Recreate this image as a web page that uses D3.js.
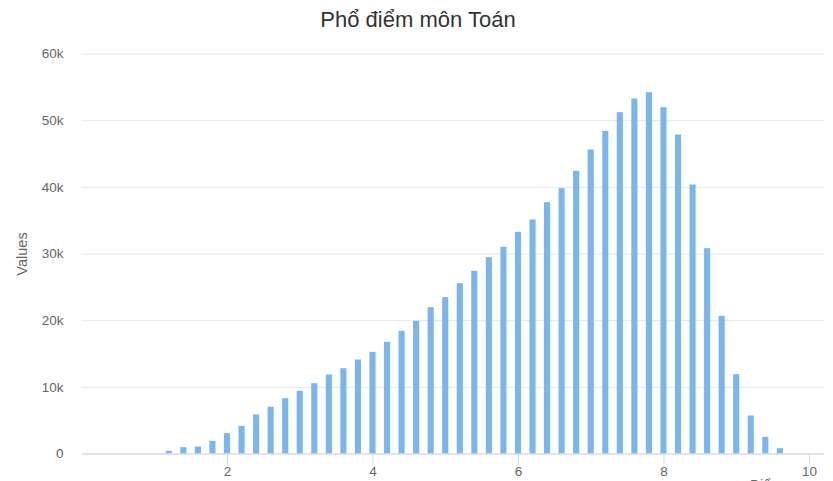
<!DOCTYPE html>
<html>
<head>
<meta charset="utf-8">
<script src="https://cdn.jsdelivr.net/npm/d3@7"></script>
<style>
  html, body { margin: 0; padding: 0; background: #fff; }
  svg { display: block; font-family: "Liberation Sans", Arial, sans-serif; }
</style>
</head>
<body>
<svg id="chart" width="833" height="481"></svg>
<script>
const title = "Phổ điểm môn Toán";
const yAxisTitle = "Values";
const xAxisTitle = "Điểm";
const scores = [1.2, 1.4, 1.6, 1.8, 2.0, 2.2, 2.4, 2.6, 2.8, 3.0, 3.2, 3.4, 3.6, 3.8, 4.0, 4.2, 4.4, 4.6, 4.8, 5.0,
                5.2, 5.4, 5.6, 5.8, 6.0, 6.2, 6.4, 6.6, 6.8, 7.0, 7.2, 7.4, 7.6, 7.8, 8.0, 8.2, 8.4, 8.6, 8.8, 9.0,
                9.2, 9.4, 9.6];
const counts = [400, 950, 1050, 1900, 3050, 4150, 5850, 7000, 8300, 9400, 10550, 11850, 12800, 14100, 15250, 16750, 18400, 19900, 21950, 23450,
                25550, 27400, 29450, 31000, 33250, 35100, 37700, 39800, 42400, 45600, 48400, 51200, 53250, 54200, 51950, 47850, 40350, 30800, 20650, 11900,
                5700, 2500, 800];
const xTicks = [2, 4, 6, 8, 10];
const yTicks = [0, 10000, 20000, 30000, 40000, 50000, 60000];
const yTickLabels = ["0", "10k", "20k", "30k", "40k", "50k", "60k"];

const svg = d3.select("#chart");
const plotLeft = 81.5, plotRight = 823.5, plotTop = 53.5, plotBottom = 453.5;

const x = d3.scaleLinear().domain([0, 10.2]).range([plotLeft, plotRight]);
const y = d3.scaleLinear().domain([0, 60000]).range([plotBottom, plotTop]);
const barW = (x(0.2) - x(0)) * 0.42;

// title
svg.append("text").attr("x", 418).attr("y", 27).attr("text-anchor", "middle")
  .attr("font-size", 22).attr("fill", "#333333").text(title);

// y grid + labels
const yAxis = d3.axisLeft(y).tickValues(yTicks).tickSize(-(plotRight - plotLeft))
  .tickFormat((d, i) => yTickLabels[i]);
const gy = svg.append("g").attr("transform", `translate(${plotLeft},0)`).call(yAxis);
gy.select(".domain").remove();
gy.selectAll(".tick line").attr("stroke", "#e6e6e6");
gy.selectAll(".tick text").attr("x", -18).attr("dy", "0.32em")
  .attr("font-size", 13.5).attr("fill", "#666666").attr("font-family", "Liberation Sans, Arial, sans-serif");

// bars
const data = scores.map((s, i) => ({ s, c: counts[i] }));
svg.append("g").selectAll("rect").data(data).join("rect")
  .attr("x", d => x(d.s) - barW / 2)
  .attr("y", d => y(d.c))
  .attr("width", barW)
  .attr("height", d => y(0) - y(d.c))
  .attr("fill", "#7cb5ec");

// x axis
const xAxis = d3.axisBottom(x).tickValues(xTicks).tickSize(10).tickSizeOuter(0).tickFormat(d3.format("d"));
const gx = svg.append("g").attr("transform", `translate(0,${plotBottom})`).call(xAxis);
gx.select(".domain").attr("stroke", "#ccd6eb");
gx.selectAll(".tick line").attr("stroke", "#ccd6eb");
gx.selectAll(".tick text").attr("y", 13).attr("dy", "0.71em")
  .attr("font-size", 13.5).attr("fill", "#666666").attr("font-family", "Liberation Sans, Arial, sans-serif");

// axis titles
svg.append("text").attr("transform", `translate(27,254) rotate(-90)`).attr("text-anchor", "middle")
  .attr("font-size", 14.5).attr("fill", "#666666").text(yAxisTitle);
svg.append("text").attr("x", 750).attr("y", 490).attr("font-size", 14)
  .attr("fill", "#666666").text(xAxisTitle);
</script>
</body>
</html>
